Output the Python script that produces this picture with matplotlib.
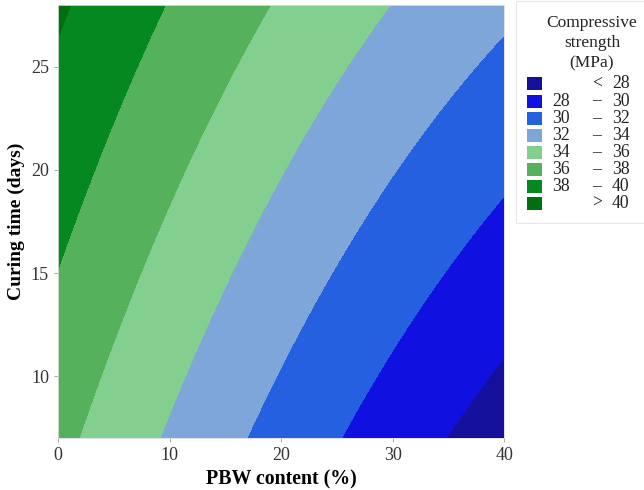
import numpy as np
import matplotlib
matplotlib.use("Agg")
import matplotlib.pyplot as plt
from matplotlib.patches import Rectangle

plt.rcParams['font.family'] = ['Liberation Serif', 'DejaVu Serif']

# Response surface: strength = a + b*x + c*t + d*x^2 + g*x*t  (x = PBW %, t = days)
pbw_range = [0, 40]
time_range = [7, 28]
coef_names = ["a", "b", "c", "d", "g"]
coef_values = [35.30, -0.304, 0.178, 0.00129, 0.00195]

levels = [0, 28, 30, 32, 34, 36, 38, 40, 100]
colors = ['#14109c', '#1010e0', '#2460e0', '#7ea6d8', '#82cf8f', '#55b15c', '#05881f', '#006f10']
label_lo = ['', '28', '30', '32', '34', '36', '38', '']
label_sep = ['<', '–', '–', '–', '–', '–', '–', '>']
label_hi = ['28', '30', '32', '34', '36', '38', '40', '40']

c = dict(zip(coef_names, coef_values))
x = np.linspace(pbw_range[0], pbw_range[1], 300)
t = np.linspace(time_range[0], time_range[1], 300)
X, T = np.meshgrid(x, t)
Z = c["a"] + c["b"] * X + c["c"] * T + c["d"] * X**2 + c["g"] * X * T

fig = plt.figure(figsize=(6.44, 4.9), dpi=100)
ax = fig.add_axes([0.090, 0.106, 0.693, 0.884])
ax.contourf(X, T, Z, levels=levels, colors=colors)

ax.set_xlim(pbw_range)
ax.set_ylim(time_range)
ax.set_xticks([0, 10, 20, 30, 40])
ax.set_yticks([10, 15, 20, 25])
ax.tick_params(colors='#999999', labelcolor='#333333', labelsize=13, length=3, width=0.6)
for s in ax.spines.values():
    s.set_color('#dddddd')
    s.set_linewidth(0.6)

ax.set_xlabel('PBW content (%)', fontsize=14.3, fontweight='bold', labelpad=4)
ax.set_ylabel('Curing time (days)', fontsize=14, fontweight='bold', labelpad=4)

# legend drawn in pixel space on an overlay axes
lax = fig.add_axes([0, 0, 1, 1], facecolor='none')
lax.set_xlim(0, 644)
lax.set_ylim(490, 0)
lax.axis('off')
lax.add_patch(Rectangle((516, 1), 140, 222, facecolor='white', edgecolor='#e6e6e6',
                        linewidth=0.8, clip_on=False))
for i, line in enumerate(['Compressive', 'strength', '(MPa)']):
    lax.text(592, 23 + 20 * i, line, ha='center', va='center', fontsize=12.5, color='#222222')
for i, col in enumerate(colors):
    yc = 84 + 17.1 * i
    lax.add_patch(Rectangle((527, yc - 6.5), 15, 13, facecolor=col, edgecolor='none'))
    lax.text(552, yc, label_lo[i], ha='left', va='center', fontsize=12.7, color='#222222')
    lax.text(597, yc, label_sep[i], ha='center', va='center', fontsize=12.7, color='#222222')
    lax.text(612, yc, label_hi[i], ha='left', va='center', fontsize=12.7, color='#222222')

fig.savefig('out.png', dpi=100)
